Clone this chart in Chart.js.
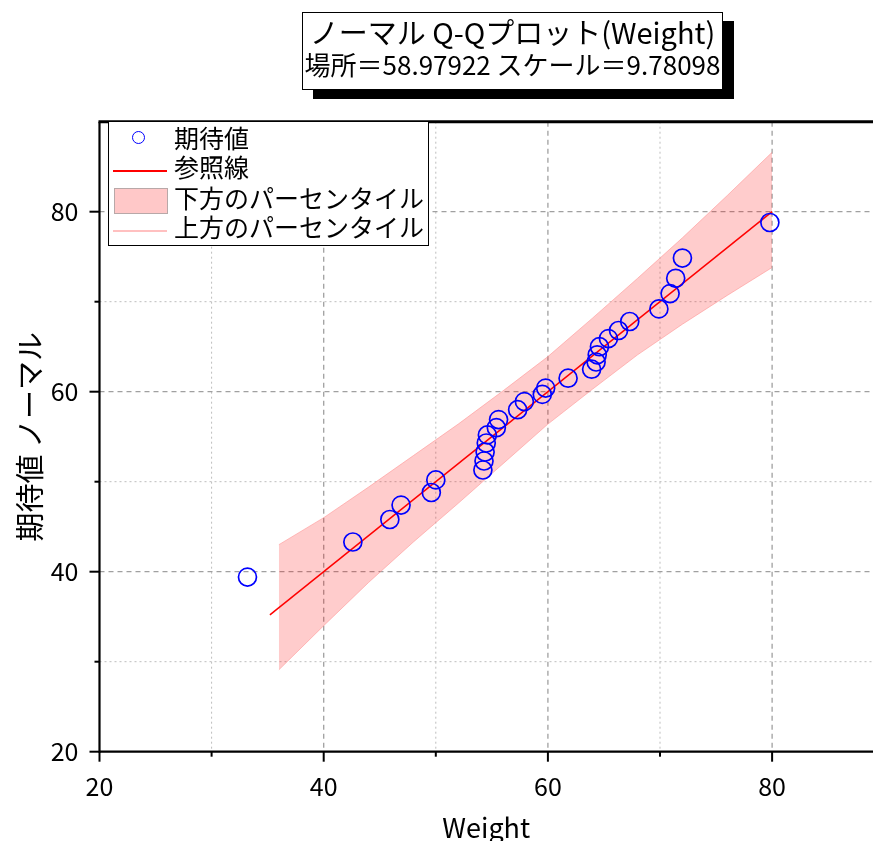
<!DOCTYPE html>
<html><head><meta charset="utf-8">
<script src="https://cdn.jsdelivr.net/npm/chart.js@4.4.1/dist/chart.umd.min.js"></script>
<style>
html,body{margin:0;padding:0;background:#fff;overflow:hidden;}
#wrap{position:relative;width:873px;height:841px;}
#c{position:absolute;left:0;top:0;}
.jp{font-family:"Noto Sans CJK JP","Noto Sans",sans-serif;color:#000;white-space:nowrap;}
#titlebox{position:absolute;left:302px;top:12px;width:419px;height:76px;border:1.5px solid #000;background:#fff;box-shadow:11px 9px 0 #000;}
#titlebox .t1{position:absolute;left:0;right:0;top:0;text-align:center;font-size:29px;line-height:36px;}
#titlebox .t2{position:absolute;left:0;right:0;top:36px;text-align:center;font-size:26px;line-height:30px;}
#legend{position:absolute;left:108px;top:121px;width:319px;height:123px;border:1px solid #000;background:#fff;}
#legend .lt{position:absolute;left:65px;font-size:25px;line-height:29px;}
#legend .sym{position:absolute;}
</style>
</head><body>
<div id="wrap">
<canvas id="c" width="873" height="841"></canvas>
<div id="titlebox" class="jp">
  <div class="t1">ノーマル Q-Qプロット(Weight)</div>
  <div class="t2">場所＝58.97922 スケール＝9.78098</div>
</div>
<div id="legend" class="jp">
  <div class="sym" style="left:23px;top:9px;width:11px;height:11px;border:1.6px solid #0000ff;border-radius:50%;"></div>
  <div class="lt" style="top:1px;">期待値</div>
  <div class="sym" style="left:4px;top:48px;width:54px;height:1.5px;background:#ff0000;"></div>
  <div class="lt" style="top:30px;">参照線</div>
  <div class="sym" style="left:5px;top:66px;width:52px;height:24px;background:#ffc8c8;border:1px solid #b8a8a8;"></div>
  <div class="lt" style="top:61px;">下方のパーセンタイル</div>
  <div class="sym" style="left:4px;top:108px;width:54px;height:1.5px;background:#ffc0c0;"></div>
  <div class="lt" style="top:90px;">上方のパーセンタイル</div>
</div>
</div>
<script>
// ---- data ----
const weight = [33.2, 42.6, 45.9, 46.9, 49.6, 50.0, 54.2, 54.3, 54.4, 54.5, 54.6, 55.4, 55.6,
                57.3, 57.9, 59.5, 59.8, 61.8, 63.9, 64.3, 64.4, 64.6, 65.4, 66.3, 67.3,
                69.9, 70.9, 71.4, 72.0, 79.8];
const expected = [39.4, 43.3, 45.8, 47.4, 48.8, 50.2, 51.3, 52.3, 53.3, 54.3, 55.2, 56.0, 56.9,
                  58.0, 58.9, 59.7, 60.4, 61.5, 62.5, 63.3, 64.1, 65.0, 65.9, 66.8, 67.8,
                  69.2, 70.9, 72.6, 74.85, 78.8];
const refX = [35.2, 80];
const refY = [35.2, 80];
const bandX = [36, 40, 44, 48, 52, 56, 60, 64, 68, 72, 76, 80];
const bandUpper = [43.0, 46.0, 49.4, 52.9, 56.4, 60.1, 63.9, 68.2, 72.6, 77.1, 81.8, 86.6];
const bandLower = [29.1, 34.0, 38.8, 43.3, 47.6, 52.0, 56.4, 60.3, 64.1, 67.5, 70.7, 73.8];
const labeledTicks = [20, 40, 60, 80];
const xTitle = 'Weight';
const yTitle = '期待値 ノーマル';

const FONT = '"Noto Sans CJK JP", "Noto Sans", sans-serif';
const pts = (xs, ys) => xs.map((x, i) => ({x, y: ys[i]}));
const isMajor = v => labeledTicks.includes(v);

const originAxes = {
  id: 'originAxes',
  beforeDatasetsDraw(chart) {
    const {ctx, chartArea: a, scales: {x, y}} = chart;
    ctx.save();
    const line = (x1, y1, x2, y2, major) => {
      ctx.beginPath();
      ctx.strokeStyle = major ? '#a0a0a0' : '#bdbdbd';
      ctx.lineWidth = major ? 1.3 : 1;
      ctx.setLineDash(major ? [5, 4] : [2, 3]);
      ctx.moveTo(x1, y1); ctx.lineTo(x2, y2); ctx.stroke();
    };
    x.ticks.forEach(t => {
      if (t.value <= x.min) return;
      const px = x.getPixelForValue(t.value);
      line(px, a.top, px, a.bottom, isMajor(t.value));
    });
    y.ticks.forEach(t => {
      if (t.value <= y.min || t.value >= y.max) return;
      const py = y.getPixelForValue(t.value);
      line(a.left, py, chart.width, py, isMajor(t.value));
    });
    ctx.restore();
  },
  afterDatasetsDraw(chart) {
    const {ctx, chartArea: a, scales: {x, y}} = chart;
    ctx.save();
    ctx.setLineDash([]);
    ctx.strokeStyle = '#000';
    ctx.lineWidth = 2;
    x.ticks.forEach(t => {
      const px = x.getPixelForValue(t.value);
      ctx.beginPath(); ctx.moveTo(px, a.bottom); ctx.lineTo(px, a.bottom + (isMajor(t.value) ? 10 : 5)); ctx.stroke();
    });
    y.ticks.forEach(t => {
      if (t.value >= y.max) return;
      const py = y.getPixelForValue(t.value);
      ctx.beginPath(); ctx.moveTo(a.left, py); ctx.lineTo(a.left - (isMajor(t.value) ? 10 : 5), py); ctx.stroke();
    });
    ctx.lineWidth = 2.2;
    ctx.beginPath(); ctx.moveTo(a.left, a.bottom); ctx.lineTo(chart.width, a.bottom); ctx.stroke();
    ctx.beginPath(); ctx.moveTo(a.left, a.top); ctx.lineTo(a.left, a.bottom + 1); ctx.stroke();
    ctx.lineWidth = 3;
    ctx.beginPath(); ctx.moveTo(a.left - 1, a.top); ctx.lineTo(chart.width, a.top); ctx.stroke();
    ctx.restore();
  }
};

new Chart(document.getElementById('c'), {
  type: 'line',
  data: {
    datasets: [
      {label: '期待値', data: pts(weight, expected), showLine: false, pointStyle: 'circle',
       pointRadius: 9, pointBorderWidth: 1.7, pointBorderColor: '#0000ff', pointBackgroundColor: 'rgba(0,0,0,0)'},
      {label: '参照線', data: pts(refX, refY), borderColor: '#ff0000', borderWidth: 1.5, pointRadius: 0, fill: false},
      {label: '上方のパーセンタイル', data: pts(bandX, bandUpper), borderColor: 'rgba(255,150,150,0.6)', borderWidth: 1,
       pointRadius: 0, fill: false, tension: 0},
      {label: '下方のパーセンタイル', data: pts(bandX, bandLower), borderColor: 'rgba(255,150,150,0.6)', borderWidth: 1,
       pointRadius: 0, fill: '-1', backgroundColor: 'rgba(255,0,0,0.2)', tension: 0}
    ]
  },
  options: {
    responsive: false,
    animation: false,
    events: [],
    layout: {autoPadding: false, padding: {top: 121.7, left: 0, right: 0, bottom: 0}},
    plugins: {legend: {display: false}, title: {display: false}, tooltip: {enabled: false}},
    scales: {
      x: {
        type: 'linear', position: 'bottom', min: 20, max: 89,
        afterFit(s) { s.height = 89.3; s.paddingLeft = 0; s.paddingRight = 0; },
        grid: {display: false, drawTicks: false}, border: {display: false},
        ticks: {stepSize: 10, includeBounds: false, autoSkip: false, maxRotation: 0, padding: 20,
                color: '#000', font: {family: FONT, size: 25},
                callback: v => isMajor(v) ? String(v) : ''},
        title: {display: true, text: xTitle, color: '#000', font: {family: FONT, size: 27, lineHeight: 1.0}, padding: {top: 0, bottom: 0}}
      },
      y: {
        type: 'linear', position: 'left', min: 20, max: 90,
        afterFit(s) { s.width = 99.5; s.paddingTop = 0; s.paddingBottom = 0; },
        grid: {display: false, drawTicks: false}, border: {display: false},
        ticks: {stepSize: 10, includeBounds: false, autoSkip: false, padding: 21,
                color: '#000', font: {family: FONT, size: 25},
                callback: v => isMajor(v) ? String(v) : ''},
        title: {display: true, text: yTitle, color: '#000', font: {family: FONT, size: 29}, padding: {top: 12.6, bottom: 0}}
      }
    }
  },
  plugins: [originAxes]
});
</script>
</body></html>
